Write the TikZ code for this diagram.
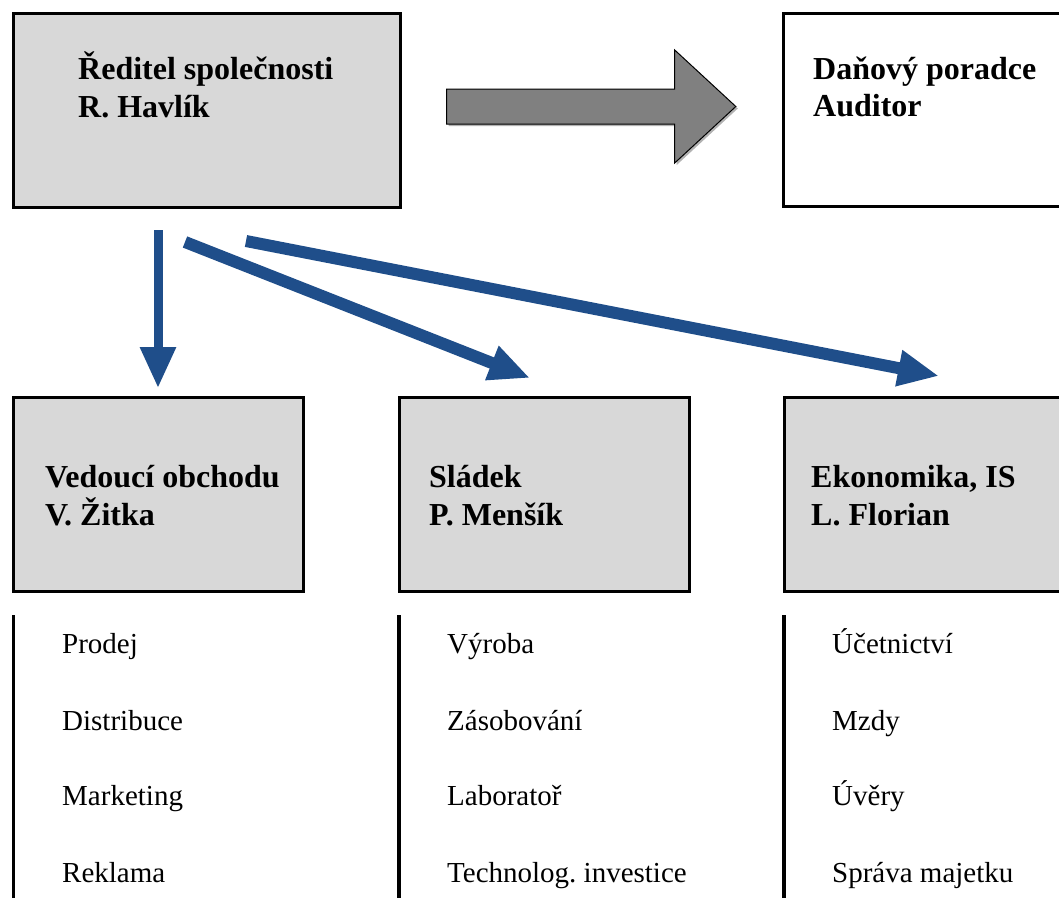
\documentclass[tikz,border=0pt]{standalone}
\usepackage{fontspec}
\setmainfont{Liberation Serif}
\usetikzlibrary{arrows.meta,shadows}
\definecolor{boxgray}{RGB}{216,216,216}
\definecolor{arrowblue}{RGB}{31,78,138}
\definecolor{bigarrowgray}{RGB}{128,128,128}
\frenchspacing
\tikzset{
  orgbox/.style={draw=black, line width=3pt, fill=boxgray, inner sep=0pt, outer sep=0pt,
    anchor=north west,
    drop shadow={shadow xshift=2pt, shadow yshift=-2pt, fill=black, opacity=0.3}},
  whitebox/.style={orgbox, fill=white},
  headtext/.style={anchor=base west, inner sep=0pt, font=\fontsize{32}{38}\selectfont\bfseries},
  itemtext/.style={anchor=base west, inner sep=0pt, font=\fontsize{29}{35}\selectfont},
  link/.style={draw=arrowblue, line width=12pt, -{Triangle[length=41pt,width=34pt]}},
  sepline/.style={draw=black, line width=3.5pt},
}
\begin{document}
\begin{tikzpicture}[x=1pt,y=-1pt]
\useasboundingbox (0,0) rectangle (1059,897);
\clip (0,0) rectangle (1059,897);
\fill[white] (0,0) rectangle (1059,897);

% boxes
\node[orgbox, minimum width=387pt, minimum height=194pt] (dir) at (13,13) {};
\node[whitebox, minimum width=300pt, minimum height=193pt] (tax) at (783,13) {};
\node[orgbox, minimum width=290pt, minimum height=194pt] (sales) at (13,397) {};
\node[orgbox, minimum width=290pt, minimum height=194pt] (brew) at (399,397) {};
\node[orgbox, minimum width=300pt, minimum height=194pt] (econ) at (784,397) {};

% box texts
\node[headtext] (dirA) at (78,79) {Ředitel společnosti};
\node[headtext] (dirB) at (78,117) {R. Havlík};
\node[headtext] (taxA) at (813,79) {Daňový poradce};
\node[headtext] (taxB) at (813,116) {Auditor};
\node[headtext] (salesA) at (45,487) {Vedoucí obchodu};
\node[headtext] (salesB) at (45,525) {V. Žitka};
\node[headtext] (brewA) at (429,487) {Sládek};
\node[headtext] (brewB) at (429,525) {P. Menšík};
\node[headtext] (econA) at (811,487) {Ekonomika, IS};
\node[headtext] (econB) at (811,525) {L. Florian};

% big grey block arrow
\draw[black, line width=1pt, fill=bigarrowgray,
  drop shadow={shadow xshift=2pt, shadow yshift=-2pt, fill=black, opacity=0.3}]
  (446.5,89) -- (674.7,89) -- (674.7,50) -- (735.8,106.5) -- (674.7,163) -- (674.7,124) -- (446.5,124) -- cycle;

% blue arrows
\coordinate (s1) at (158,230);
\coordinate (e1) at (158,388);
\coordinate (s2) at (185,242);
\coordinate (e2) at (530,378);
\coordinate (s3) at (246,241);
\coordinate (e3) at (939,376);
\draw[link, line width=9pt] (s1) -- (e1);
\draw[link] (s2) -- (e2);
\draw[link] (s3) -- (e3);

% separator lines
\coordinate (l1a) at (13.5,615); \coordinate (l1b) at (13.5,900);
\coordinate (l2a) at (399,615); \coordinate (l2b) at (399,900);
\coordinate (l3a) at (784,615); \coordinate (l3b) at (784,900);
\draw[sepline] (l1a) -- (l1b);
\draw[sepline] (l2a) -- (l2b);
\draw[sepline] (l3a) -- (l3b);

% items
\node[itemtext] (i11) at (62,653) {Prodej};
\node[itemtext] (i12) at (62,730) {Distribuce};
\node[itemtext] (i13) at (62,805) {Marketing};
\node[itemtext] (i14) at (62,882) {Reklama};
\node[itemtext] (i21) at (447,653) {Výroba};
\node[itemtext] (i22) at (447,730) {Zásobování};
\node[itemtext] (i23) at (447,805) {Laboratoř};
\node[itemtext] (i24) at (447,882) {Technolog. investice};
\node[itemtext] (i31) at (832,653) {Účetnictví};
\node[itemtext] (i32) at (832,730) {Mzdy};
\node[itemtext] (i33) at (832,805) {Úvěry};
\node[itemtext] (i34) at (832,882) {Správa majetku};
\end{tikzpicture}
\end{document}
